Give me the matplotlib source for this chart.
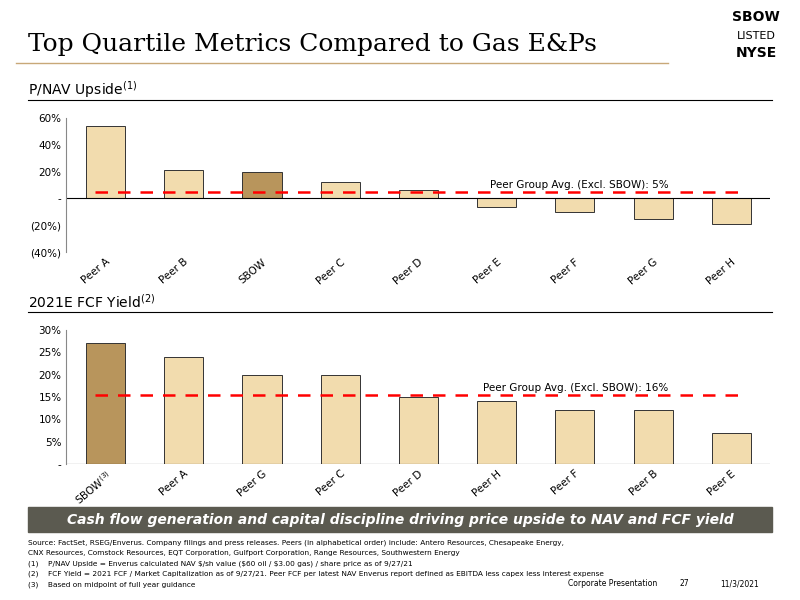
import matplotlib.pyplot as plt
import matplotlib.ticker as mticker

nav_names = ["Peer A", "Peer B", "SBOW", "Peer C", "Peer D", "Peer E", "Peer F", "Peer G", "Peer H"]
nav_vals = [54, 21, 20, 12, 6, -6, -10, -15, -19]
nav_avg = 5

fcf_names = ["SBOW$^{(3)}$", "Peer A", "Peer G", "Peer C", "Peer D", "Peer H", "Peer F", "Peer B", "Peer E"]
fcf_vals = [27, 24, 20, 20, 15, 14, 12, 12, 7]
fcf_avg = 15.5

light = "#f2dcae"
dark = "#b8955c"

def pct_fmt(v, pos):
    if abs(v) < 1e-9:
        return "-"
    if v < 0:
        return "(%d%%)" % abs(v)
    return "%d%%" % v

fig = plt.figure(figsize=(8, 6), dpi=100)
fig.text(0.035, 0.915, "Top Quartile Metrics Compared to Gas E&Ps", family="DejaVu Serif", fontsize=18)
fig.add_artist(plt.Line2D([0.02, 0.835], [0.895, 0.895], color="#c8a878", lw=1))
fig.text(0.945, 0.965, "SBOW", ha="center", fontsize=10, weight="bold")
fig.text(0.945, 0.935, "LISTED", ha="center", fontsize=8)
fig.text(0.945, 0.905, "NYSE", ha="center", fontsize=10, weight="bold")

def bar_panel(rect, names, vals, avg, sbow_idx, ylim, ticks, label, title, ytitle):
    ax = fig.add_axes(rect)
    colors = [dark if i == sbow_idx else light for i in range(len(vals))]
    ax.bar(range(len(vals)), vals, width=0.5, color=colors, edgecolor="#333333", lw=0.7)
    ax.axhline(0, color="black", lw=0.8)
    ax.axhline(avg, xmin=0.04, xmax=0.96, color="red", ls=(0, (5, 4)), lw=1.8)
    ax.text(len(vals) - 1.8, avg + (ylim[1] - ylim[0]) * 0.03, label, ha="right", fontsize=7.5)
    ax.set_ylim(*ylim)
    ax.set_yticks(ticks)
    ax.yaxis.set_major_formatter(mticker.FuncFormatter(pct_fmt))
    ax.set_xlim(-0.5, len(vals) - 0.5)
    ax.set_xticks(range(len(vals)))
    ax.set_xticklabels(names, rotation=40, ha="right", rotation_mode="anchor", fontsize=7.5)
    ax.tick_params(axis="y", labelsize=7.5, length=0)
    ax.tick_params(axis="x", length=0)
    for s in ["top", "right", "bottom"]:
        ax.spines[s].set_visible(False)
    ax.spines["left"].set_color("#888888")
    fig.text(0.035, ytitle, title, fontsize=10)
    fig.add_artist(plt.Line2D([0.035, 0.965], [ytitle - 0.008, ytitle - 0.008], color="black", lw=0.8))
    return ax

bar_panel([0.083, 0.58, 0.88, 0.223], nav_names, nav_vals, nav_avg, 2, (-40, 60),
          [-40, -20, 0, 20, 40, 60], "Peer Group Avg. (Excl. SBOW): 5%", "P/NAV Upside$^{(1)}$", 0.842)
bar_panel([0.083, 0.227, 0.88, 0.223], fcf_names, fcf_vals, fcf_avg, 0, (0, 30),
          [0, 5, 10, 15, 20, 25, 30], "Peer Group Avg. (Excl. SBOW): 16%", "2021E FCF Yield$^{(2)}$", 0.488)

fig.patches.append(plt.Rectangle((0.035, 0.113), 0.93, 0.042, transform=fig.transFigure, color="#5b5a50"))
fig.text(0.5, 0.134, "Cash flow generation and capital discipline driving price upside to NAV and FCF yield",
         ha="center", va="center", color="white", fontsize=10, weight="bold", style="italic")

notes = [
    "Source: FactSet, RSEG/Enverus. Company filings and press releases. Peers (in alphabetical order) include: Antero Resources, Chesapeake Energy,",
    "CNX Resources, Comstock Resources, EQT Corporation, Gulfport Corporation, Range Resources, Southwestern Energy",
    "(1)    P/NAV Upside = Enverus calculated NAV $/sh value ($60 oil / $3.00 gas) / share price as of 9/27/21",
    "(2)    FCF Yield = 2021 FCF / Market Capitalization as of 9/27/21. Peer FCF per latest NAV Enverus report defined as EBITDA less capex less interest expense",
    "(3)    Based on midpoint of full year guidance",
]
for i, n in enumerate(notes):
    fig.text(0.035, 0.093 - i * 0.0175, n, fontsize=5.3)
fig.text(0.71, 0.023, "Corporate Presentation", fontsize=5.5)
fig.text(0.85, 0.023, "27", fontsize=5.5)
fig.text(0.9, 0.023, "11/3/2021", fontsize=5.5)

fig.savefig("out.png", dpi=100)
